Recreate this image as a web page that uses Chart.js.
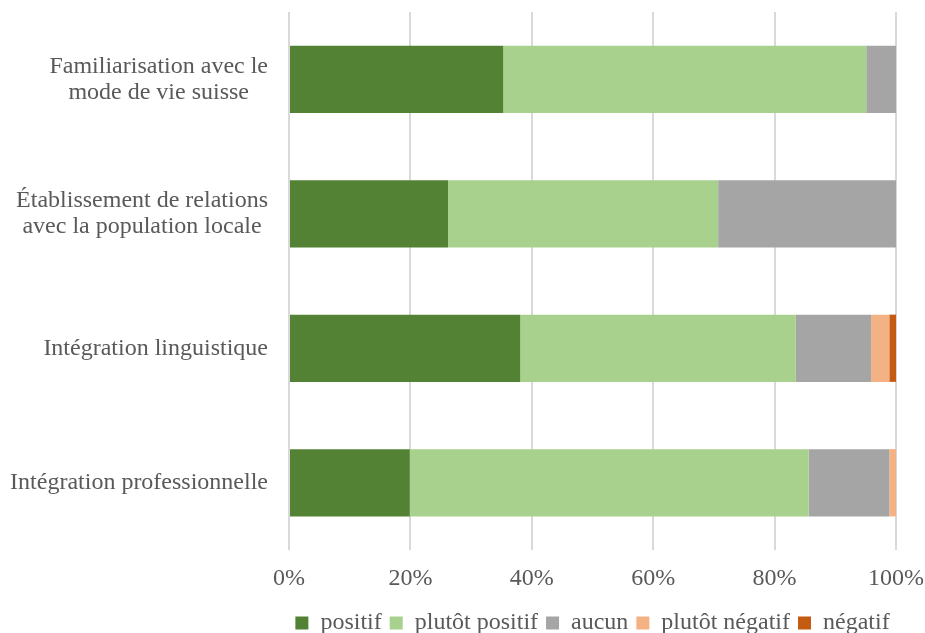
<!DOCTYPE html>
<html>
<head>
<meta charset="utf-8">
<script src="https://cdn.jsdelivr.net/npm/chart.js@4"></script>
<style>
  html, body { margin: 0; padding: 0; background: #fff; }
  #wrap { width: 925px; height: 633px; }
</style>
</head>
<body>
<div id="wrap"><canvas id="chart" width="925" height="633"></canvas></div>
<script>
const categories = [
  ["Familiarisation avec le", "mode de vie suisse"],
  ["Établissement de relations", "avec la population locale"],
  ["Intégration linguistique"],
  ["Intégration professionnelle"]
];
const seriesNames = ["positif", "plutôt positif", "aucun", "plutôt négatif", "négatif"];
const positif = [35.3, 26.2, 38.1, 19.9];
const plutotPositif = [59.8, 44.5, 45.4, 65.7];
const aucun = [4.9, 29.3, 12.4, 13.3];
const plutotNegatif = [0, 0, 3.0, 1.1];
const negatif = [0, 0, 1.1, 0];
const xTicks = [0, 20, 40, 60, 80, 100];

const colors = ["#548235", "#A9D18E", "#A5A5A5", "#F4B183", "#C55A11"];
const values = [positif, plutotPositif, aucun, plutotNegatif, negatif];
const FONT = "'Liberation Serif', 'Times New Roman', serif";
const TEXT = "#595959";
const SIZE = 24;

// draws the category labels with each line centred inside a right-aligned block
const yLabels = {
  id: "yLabels",
  afterDraw(chart) {
    const ctx = chart.ctx;
    const y = chart.scales.y;
    const right = chart.chartArea.left - 21;
    const lh = 26;
    ctx.save();
    ctx.font = SIZE + "px " + FONT;
    ctx.fillStyle = TEXT;
    ctx.textAlign = "center";
    ctx.textBaseline = "middle";
    categories.forEach((lines, i) => {
      const w = Math.max(...lines.map(l => ctx.measureText(l).width));
      const cx = right - w / 2;
      const cy = y.getPixelForValue(i);
      lines.forEach((l, j) => {
        ctx.fillText(l, cx, cy + (j - (lines.length - 1) / 2) * lh);
      });
    });
    ctx.restore();
  }
};

// centre the legend under the plot area instead of the whole canvas
const legendShift = {
  id: "legendShift",
  afterLayout(chart) {
    const lg = chart.legend;
    const a = chart.chartArea;
    const dx = (a.left + a.right) / 2 - (lg.left + lg.right) / 2;
    lg.left += dx;
    lg.right += dx;
  }
};

new Chart(document.getElementById("chart"), {
  type: "bar",
  data: {
    labels: categories,
    datasets: seriesNames.map((name, i) => ({
      label: name,
      data: values[i],
      backgroundColor: colors[i],
      borderWidth: 0,
      barPercentage: 0.5,
      categoryPercentage: 1
    }))
  },
  options: {
    indexAxis: "y",
    responsive: false,
    animation: false,
    layout: { padding: { top: 12, right: 0, left: 0, bottom: 0 } },
    scales: {
      x: {
        stacked: true,
        min: 0,
        max: 100,
        afterBuildTicks: s => { s.ticks = xTicks.map(v => ({ value: v })); },
        afterFit: s => { s.paddingRight = 29; s.height = 53; },
        ticks: {
          callback: v => v + "%",
          color: TEXT,
          font: { family: FONT, size: SIZE },
          padding: 14
        },
        grid: { color: "#d9d9d9", lineWidth: 2, drawTicks: false },
        border: { display: false }
      },
      y: {
        stacked: true,
        afterFit: s => { s.width = 289; },
        ticks: { color: "transparent", font: { family: FONT, size: 12 } },
        grid: { display: false },
        border: { display: false }
      }
    },
    plugins: {
      legend: {
        position: "bottom",
        maxHeight: 30,
        labels: {
          color: TEXT,
          font: { family: FONT, size: SIZE },
          boxWidth: 13,
          boxHeight: 13,
          padding: 8
        }
      },
      tooltip: { enabled: false }
    }
  },
  plugins: [yLabels, legendShift]
});
</script>
</body>
</html>
